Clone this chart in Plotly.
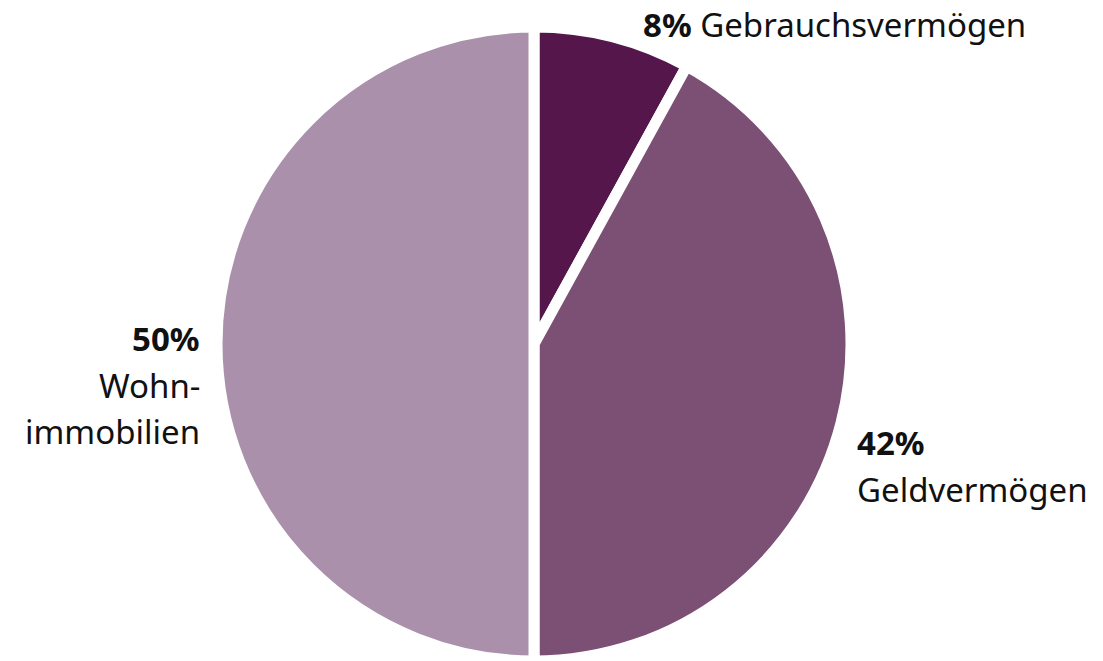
import plotly.graph_objects as go

labels = ["Gebrauchsvermögen", "Geldvermögen", "Wohnimmobilien"]
values = [8, 42, 50]
colors = ["#55174b", "#7c4f74", "#ab90ab"]

W, H = 1103, 661
cx, top = 534, 27
r = (H - top) / 2

fig = go.Figure(go.Pie(
    labels=labels, values=values, sort=False, direction="clockwise", rotation=0,
    marker=dict(colors=colors, line=dict(color="white", width=11)),
    textinfo="none", hoverinfo="skip", showlegend=False,
    domain=dict(x=[(cx - r) / W, (cx + r) / W], y=[0, 1 - top / H]),
))

FONT = "Noto Sans"
FS = 33

def ann(text, px, py, anchor):
    fig.add_annotation(text=text, x=px / W, y=1 - py / H, xref="paper", yref="paper",
                       xanchor=anchor, yanchor="middle", showarrow=False,
                       font=dict(family=FONT, size=FS, color="#111111"))

ann("<b>8%</b> Gebrauchsvermögen", 641, 24, "left")
ann("<b>50%</b>", 202, 338, "right")
ann("Wohn-", 202, 385, "right")
ann("immobilien", 202, 432, "right")
ann("<b>42%</b>", 855, 442, "left")
ann("Geldvermögen", 855, 489, "left")

fig.update_layout(width=W, height=H, margin=dict(l=0, r=0, t=0, b=0),
                  paper_bgcolor="white", plot_bgcolor="white")
fig.write_html("out.html")
